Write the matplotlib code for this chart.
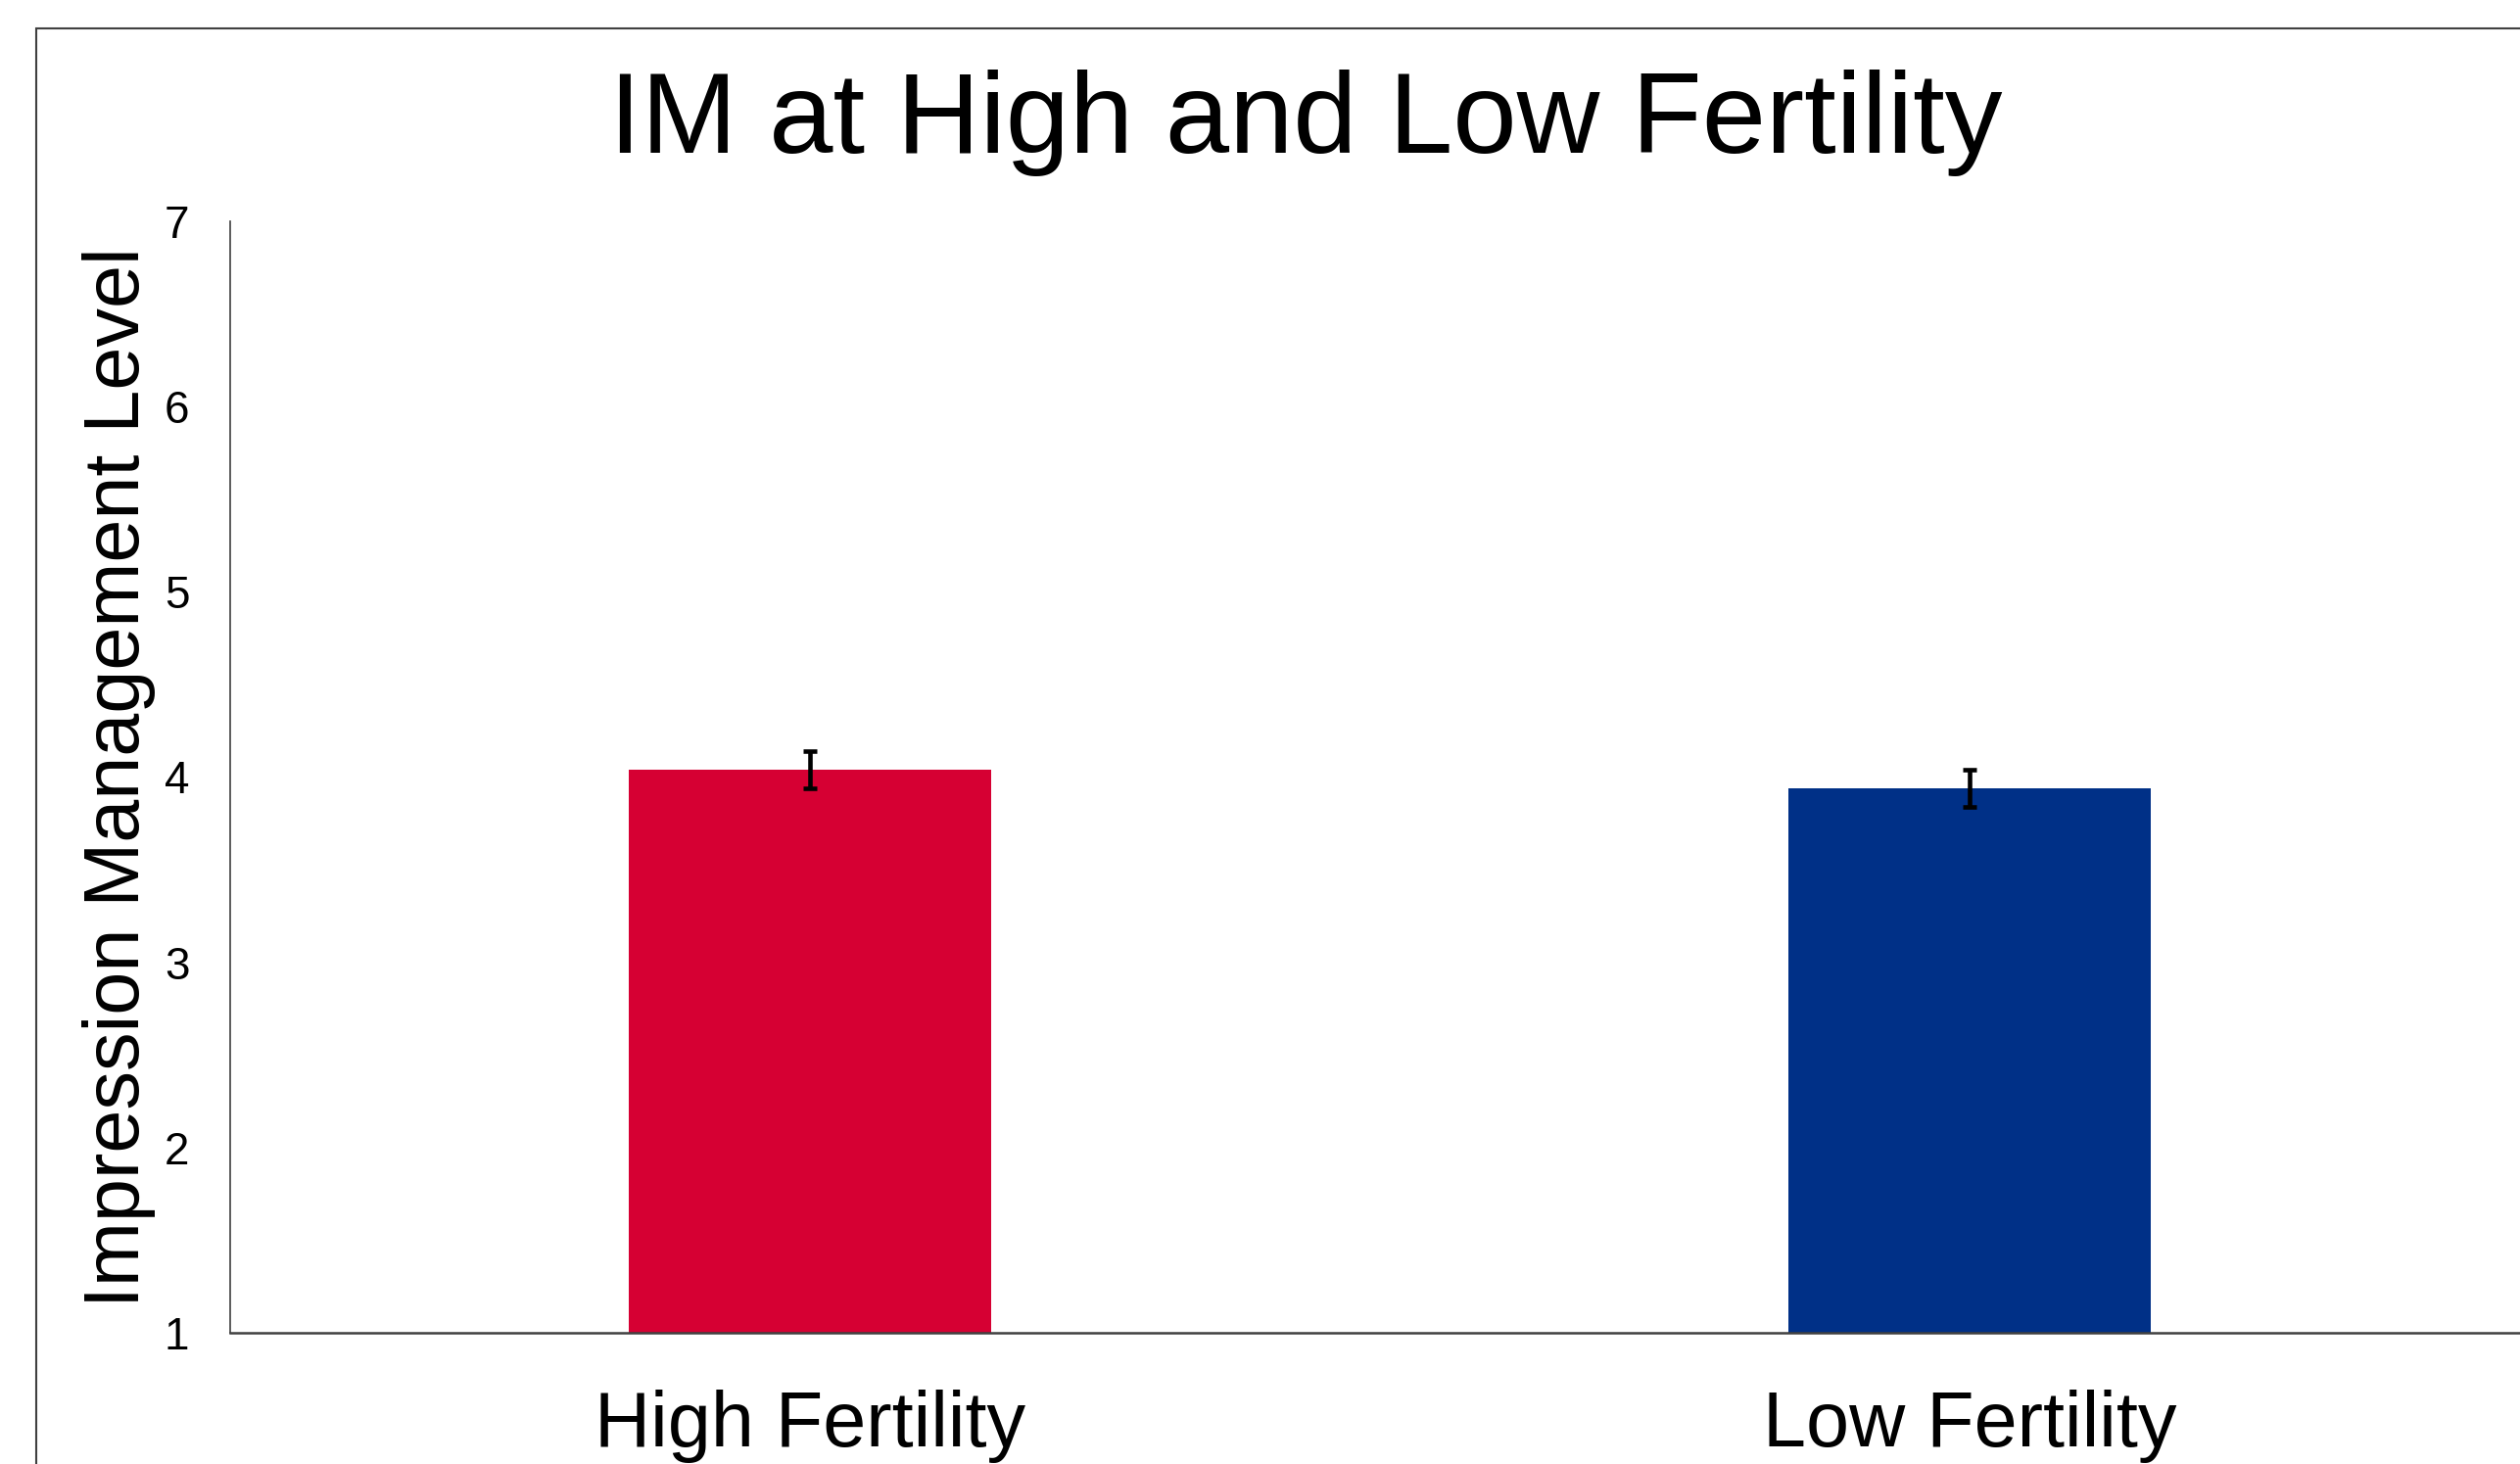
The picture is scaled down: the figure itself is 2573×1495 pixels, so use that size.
import matplotlib
matplotlib.use("Agg")
import matplotlib.pyplot as plt
from matplotlib.patches import Rectangle

categories = ["High Fertility", "Low Fertility"]
values = [4.04, 3.94]
errors = [0.10, 0.10]
colors = ["#D60033", "#003087"]
yticks = [1, 2, 3, 4, 5, 6, 7]

plt.rcParams['font.family'] = ['Liberation Sans', 'DejaVu Sans']

W, H = 2573, 1495
fig = plt.figure(figsize=(W / 100, H / 100), dpi=100)
fig.patch.set_facecolor("white")

left, right = 235 / W, 2603 / W
bottom, top = 1 - 1361 / H, 1 - 226 / H
ax = fig.add_axes([left, bottom, right - left, top - bottom])

x = list(range(len(categories)))
ax.bar(x, values, width=0.3125, color=colors, zorder=2)
ax.errorbar(x, values, yerr=errors, fmt='none', ecolor='black',
            elinewidth=3.3, capsize=4.7, capthick=3.3, zorder=3)

ax.set_xlim(-0.5, 1.5)
ax.set_ylim(1, 7)
ax.set_yticks(yticks)
ax.set_yticklabels([str(t) for t in yticks], fontsize=33)
ax.set_xticks(x)
ax.set_xticklabels(categories, fontsize=57)
ax.tick_params(axis='y', length=0, pad=30)
ax.tick_params(axis='x', length=0, pad=42)

for s in ['top', 'right']:
    ax.spines[s].set_visible(False)
ax.spines['left'].set_color('#404040')
ax.spines['left'].set_linewidth(1.2)
ax.spines['bottom'].set_color('#404040')
ax.spines['bottom'].set_linewidth(1.8)

ax.set_ylabel("Impression Management Level", fontsize=57)
ax.yaxis.set_label_coords((159 - 235) / (2603 - 235), 0.5)

fig.text(1333 / W, 1 - 125 / H, "IM at High and Low Fertility",
         ha='center', va='center', fontsize=84.5)

fig.add_artist(Rectangle((37 / W, -0.1), 2, 1 - 29 / H + 0.1,
                         transform=fig.transFigure, fill=False,
                         ec='#404040', lw=1.5))

fig.savefig("out.png", dpi=100)
